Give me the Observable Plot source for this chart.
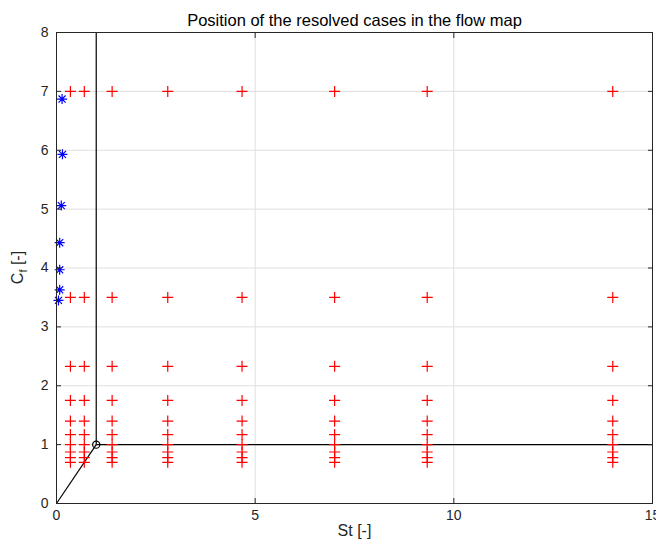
<!DOCTYPE html>
<html>
<head>
<meta charset="utf-8">
<script src="https://cdn.jsdelivr.net/npm/d3@7"></script>
<script src="https://cdn.jsdelivr.net/npm/@observablehq/plot@0.6"></script>
<style>
  html, body { margin: 0; padding: 0; background: #fff; }
  #chart { width: 656px; height: 544px; }
</style>
</head>
<body>
<div id="chart"></div>
<script>
// ---- data ----
const title = "Position of the resolved cases in the flow map";
const xLabel = "St [-]";
const xTicks = [0, 5, 10, 15];
const yTicks = [0, 1, 2, 3, 4, 5, 6, 7, 8];

// resolved cases (red +): grid of St values x Cf values
const resolvedSt = [0.35, 0.7, 1.4, 2.8, 4.67, 7, 9.33, 14];
const resolvedCf = [7, 3.5, 2.33, 1.75, 1.4, 1.17, 1.0, 0.875, 0.78, 0.7];

// other cases (blue *)
const otherSt = [0.14, 0.15, 0.12, 0.08, 0.08, 0.08, 0.05];
const otherCf = [6.87, 5.93, 5.06, 4.43, 3.97, 3.63, 3.45];

// flow-map boundaries (black lines)
const boundX1 = [0, 1, 1];
const boundY1 = [0, 1, 1];
const boundX2 = [1, 1, 15];
const boundY2 = [1, 8, 1];
const cornerPoint = [{st: 1, cf: 1}];

// ---- tables ----
const resolved = resolvedSt.flatMap(st => resolvedCf.map(cf => ({st, cf})));
const others = otherSt.map((st, i) => ({st, cf: otherCf[i]}));
const bounds = boundX1.map((x1, i) => ({x1, y1: boundY1[i], x2: boundX2[i], y2: boundY2[i]}));

// custom thin symbols
const plusSymbol = {
  draw(ctx, size) {
    const r = Math.sqrt(size / Math.PI);
    ctx.moveTo(-r, 0); ctx.lineTo(r, 0);
    ctx.moveTo(0, -r); ctx.lineTo(0, r);
  }
};
const starSymbol = {
  draw(ctx, size) {
    const r = Math.sqrt(size / Math.PI);
    const d = r * Math.SQRT1_2;
    ctx.moveTo(-r, 0); ctx.lineTo(r, 0);
    ctx.moveTo(0, -r); ctx.lineTo(0, r);
    ctx.moveTo(-d, -d); ctx.lineTo(d, d);
    ctx.moveTo(-d, d); ctx.lineTo(d, -d);
  }
};

const axisColor = "#262626";
const gridColor = "#dfdfdf";

const chart = Plot.plot({
  width: 656,
  height: 544,
  marginLeft: 56,
  marginRight: 4,
  marginTop: 32,
  marginBottom: 41,
  style: {fontFamily: "'Liberation Sans', Arial, Helvetica, sans-serif", fontSize: "14px", color: axisColor, background: "#fff"},
  x: {domain: [0, 15], ticks: xTicks, label: null},
  y: {domain: [0, 8], ticks: yTicks, label: null},
  marks: [
    Plot.gridX(xTicks, {stroke: gridColor, strokeOpacity: 1}),
    Plot.gridY(yTicks, {stroke: gridColor, strokeOpacity: 1}),
    Plot.link(bounds, {x1: "x1", y1: "y1", x2: "x2", y2: "y2", stroke: "black", strokeWidth: 1.2}),
    Plot.dot(cornerPoint, {x: "st", y: "cf", r: 3.6, stroke: "black", strokeWidth: 1.2, fill: "none"}),
    Plot.dot(resolved, {x: "st", y: "cf", symbol: plusSymbol, r: 5.5, stroke: "#ff0000", strokeWidth: 1.2, fill: "none"}),
    Plot.dot(others, {x: "st", y: "cf", symbol: starSymbol, r: 5, stroke: "#0000ff", strokeWidth: 1.2, fill: "none"}),
    Plot.frame({stroke: axisColor, strokeWidth: 1}),
    Plot.axisX(xTicks, {anchor: "bottom", tickSize: -5, tickPadding: 12, tickFormat: d => String(d), stroke: axisColor, fill: axisColor, label: null, fontSize: 14}),
    Plot.axisX(xTicks, {anchor: "top", tickSize: -5, text: null, stroke: axisColor, label: null}),
    Plot.axisY(yTicks, {anchor: "left", tickSize: -5, tickPadding: 13, tickFormat: d => String(d), stroke: axisColor, fill: axisColor, label: null, fontSize: 14}),
    Plot.axisY(yTicks, {anchor: "right", tickSize: -5, text: null, stroke: axisColor, label: null}),
    Plot.text([title], {frameAnchor: "top", dy: -18, fontSize: 16.5, fill: "#000"}),
    Plot.text([xLabel], {frameAnchor: "bottom", dy: 32, fontSize: 16, fill: axisColor})
  ]
});

// y-axis label with subscript
const svg = d3.select(chart);
const yl = svg.append("text")
  .attr("transform", "translate(23,267.5) rotate(-90)")
  .attr("text-anchor", "middle")
  .attr("font-size", 16)
  .attr("fill", axisColor);
yl.append("tspan").text("C");
yl.append("tspan").attr("font-size", 11).attr("dy", 4).text("f");
yl.append("tspan").attr("dy", -4).text(" [-]");

document.getElementById("chart").appendChild(chart);
</script>
</body>
</html>
